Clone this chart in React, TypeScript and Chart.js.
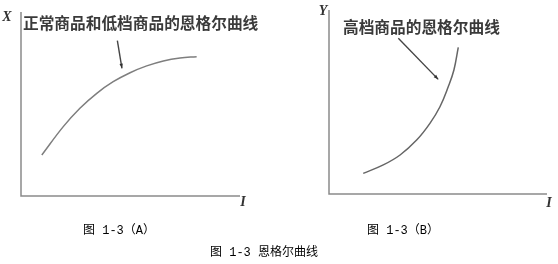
import { useEffect, useRef } from "react";
import { Chart, registerables } from "chart.js";

Chart.register(...registerables);

// Engel curve for normal / inferior goods: quantity X against income I
const normalIncome = [0.95, 1.93, 2.69, 3.46, 4.21, 4.98, 5.74, 6.5, 7.26, 8.02];
const normalQuantity = [2.23, 3.77, 4.77, 5.58, 6.21, 6.7, 7.07, 7.34, 7.5, 7.57];

// Engel curve for luxury goods: quantity Y against income I
const luxuryIncome = [1.57, 2.49, 3.26, 4.02, 4.63, 5.09, 5.47, 5.73, 5.93];
const luxuryQuantity = [1.12, 1.58, 2.12, 2.93, 3.84, 4.74, 5.83, 6.74, 7.97];

// Pointer arrows (income, quantity) from the label to the curve
const normalArrowFrom = [4.4, 8.44];
const normalArrowTo = [4.61, 6.94];
const luxuryArrowFrom = [3.18, 8.46];
const luxuryArrowTo = [5.01, 6.23];

const normalTitle = "正常商品和低档商品的恩格尔曲线";
const luxuryTitle = "高档商品的恩格尔曲线";
const captionA = "图 1-3（A）";
const captionB = "图 1-3（B）";
const figureCaption = "图 1-3 恩格尔曲线";

const W = 558;
const H = 264;

type Panel = {
  xs: number[];
  ys: number[];
  arrowFrom: number[];
  arrowTo: number[];
  title: string;
  yName: string;
  curveColor: string;
  padding: { left: number; right: number; top: number; bottom: number };
  yNameAt: [number, number];
  xNameAt: [number, number];
  titleAt: [number, number];
  captions: { text: string; x: number; y: number }[];
};

const panels: Panel[] = [
  {
    xs: normalIncome,
    ys: normalQuantity,
    arrowFrom: normalArrowFrom,
    arrowTo: normalArrowTo,
    title: normalTitle,
    yName: "X",
    curveColor: "#7e7e7e",
    padding: { left: 21, right: W - 240, top: 12, bottom: H - 196 },
    yNameAt: [-14, 5],
    xNameAt: [3, 6],
    titleAt: [2, 11],
    captions: [
      { text: captionA, x: 119, y: 231 },
      { text: figureCaption, x: 264, y: 253 },
    ],
  },
  {
    xs: luxuryIncome,
    ys: luxuryQuantity,
    arrowFrom: luxuryArrowFrom,
    arrowTo: luxuryArrowTo,
    title: luxuryTitle,
    yName: "Y",
    curveColor: "#666",
    padding: { left: 329, right: W - 547, top: 10, bottom: H - 194 },
    yNameAt: [-6, 1],
    xNameAt: [2, 9],
    titleAt: [14, 17],
    captions: [{ text: captionB, x: 403, y: 231 }],
  },
];

function decorations(p: Panel) {
  return {
    id: "engelDecorations",
    beforeDatasetsDraw(chart: Chart) {
      // income and quantity axes, drawn along the scales' zero lines
      const { ctx, scales } = chart;
      const x = scales.x;
      const y = scales.y;
      const ox = x.getPixelForValue(x.min);
      const oy = y.getPixelForValue(y.min);
      ctx.save();
      ctx.strokeStyle = "#8a8a8a";
      ctx.lineWidth = 1.5;
      ctx.beginPath();
      ctx.moveTo(ox, y.getPixelForValue(y.max));
      ctx.lineTo(ox, oy);
      ctx.lineTo(x.getPixelForValue(x.max), oy);
      ctx.stroke();
      ctx.restore();
    },
    afterDraw(chart: Chart) {
      const { ctx, chartArea, scales } = chart;
      const { left, top, right, bottom } = chartArea;
      ctx.save();

      // axis names
      ctx.fillStyle = "#333";
      ctx.font = "italic bold 14px 'Liberation Serif', serif";
      ctx.textAlign = "center";
      ctx.textBaseline = "middle";
      ctx.fillText(p.yName, left + p.yNameAt[0], top + p.yNameAt[1]);
      ctx.fillText("I", right + p.xNameAt[0], bottom + p.xNameAt[1]);

      // curve label
      ctx.font = "bold 15.7px 'Noto Sans CJK SC', sans-serif";
      ctx.textAlign = "left";
      ctx.fillStyle = "#3a3a3a";
      ctx.fillText(p.title, left + p.titleAt[0], top + p.titleAt[1]);

      // pointer arrow
      const x0 = scales.x.getPixelForValue(p.arrowFrom[0]);
      const y0 = scales.y.getPixelForValue(p.arrowFrom[1]);
      const x1 = scales.x.getPixelForValue(p.arrowTo[0]);
      const y1 = scales.y.getPixelForValue(p.arrowTo[1]);
      ctx.strokeStyle = "#444";
      ctx.lineWidth = 1.4;
      ctx.beginPath();
      ctx.moveTo(x0, y0);
      ctx.lineTo(x1, y1);
      ctx.stroke();
      const a = Math.atan2(y1 - y0, x1 - x0);
      const hl = 5;
      ctx.fillStyle = "#333";
      ctx.beginPath();
      ctx.moveTo(x1, y1);
      ctx.lineTo(x1 - hl * Math.cos(a - 0.35), y1 - hl * Math.sin(a - 0.35));
      ctx.lineTo(x1 - hl * Math.cos(a + 0.35), y1 - hl * Math.sin(a + 0.35));
      ctx.closePath();
      ctx.fill();

      // captions
      ctx.fillStyle = "#000";
      ctx.font = "12px 'Liberation Mono', 'Noto Sans CJK SC', monospace";
      ctx.textAlign = "center";
      for (const c of p.captions) ctx.fillText(c.text, c.x, c.y);
      ctx.restore();
    },
  };
}

function EngelPanel({ panel }: { panel: Panel }) {
  const ref = useRef<HTMLCanvasElement | null>(null);
  useEffect(() => {
    if (!ref.current) return;
    const axis = { type: "linear" as const, min: 0, max: 10, display: false };
    const chart = new Chart(ref.current, {
      type: "scatter",
      data: {
        datasets: [
          {
            data: panel.xs.map((x, i) => ({ x, y: panel.ys[i] })),
            showLine: true,
            borderColor: panel.curveColor,
            borderWidth: 1.5,
            pointRadius: 0,
            tension: 0.4,
          },
        ],
      },
      options: {
        responsive: false,
        animation: false,
        devicePixelRatio: 1,
        layout: { padding: panel.padding },
        plugins: { legend: { display: false }, tooltip: { enabled: false } },
        scales: { x: { ...axis }, y: { ...axis } },
      },
      plugins: [decorations(panel)],
    });
    return () => chart.destroy();
  }, [panel]);
  return (
    <canvas
      ref={ref}
      width={W}
      height={H}
      style={{ position: "absolute", left: 0, top: 0, width: W, height: H }}
    />
  );
}

export default function App() {
  return (
    <div
      style={{
        position: "fixed",
        left: 0,
        top: 0,
        width: W,
        height: H,
        background: "#fff",
        overflow: "hidden",
      }}
    >
      {panels.map((p, i) => (
        <EngelPanel key={i} panel={p} />
      ))}
    </div>
  );
}
